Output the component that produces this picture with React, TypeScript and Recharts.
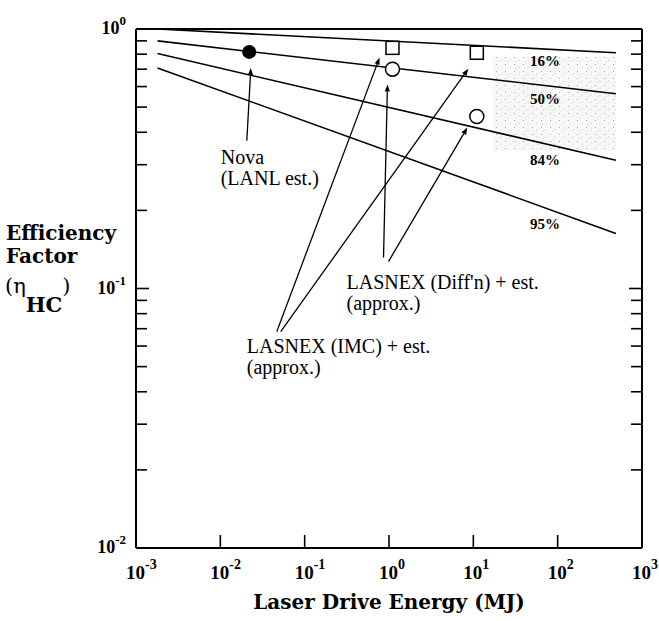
import { ComposedChart, Line, Scatter, XAxis, YAxis, ReferenceLine, ReferenceDot, ReferenceArea } from "recharts"

// laser drive energy (MJ) at the two ends of the efficiency curves
const energyEnds = [0.0018, 490]
const eta16 = [1.0, 0.81]
const eta50 = [0.9, 0.563]
const eta84 = [0.804, 0.312]
const eta95 = [0.708, 0.163]

const curveLabels = ["16%", "50%", "84%", "95%"]
const curveLabelEnergy = 71
const curveLabelEta = [0.756, 0.5375, 0.314, 0.1765]

const novaPoint = [{ energy: 0.022, eta: 0.816 }]
const diffnPoints = [
  { energy: 1.1, eta: 0.7 },
  { energy: 11, eta: 0.46 },
]
const imcPoints = [
  { energy: 1.1, eta: 0.846 },
  { energy: 11, eta: 0.81 },
]

// stippled band on the right
const bandEnergy = [17, 490]
const bandEta = [0.34, 0.78]

// annotation arrows: [from, to] as [energy, eta]
const arrows = [
  [[0.0206, 0.371], [0.023, 0.708]],
  [[0.861, 0.1316], [0.959, 0.611]],
  [[0.986, 0.127], [8.49, 0.417]],
  [[0.0467, 0.0682], [0.773, 0.776]],
  [[0.052, 0.0682], [8.73, 0.703]],
]

const notes = [
  { energy: 0.0101, eta: 0.301, lines: ["Nova", "(LANL est.)"] },
  { energy: 0.314, eta: 0.0997, lines: ["LASNEX (Diff'n) + est.", "(approx.)"] },
  { energy: 0.0206, eta: 0.0565, lines: ["LASNEX (IMC) + est.", "(approx.)"] },
]

const xTicks = [0.001, 0.01, 0.1, 1, 10, 100, 1000]
const yTicks = [
  0.01, 0.02, 0.03, 0.04, 0.05, 0.06, 0.07, 0.08, 0.09, 0.1, 0.2, 0.3, 0.4, 0.5, 0.6, 0.7, 0.8, 0.9, 1,
]
const yMajor = [0.01, 0.1, 1]

const chartData = energyEnds.map((energy, i) => ({
  energy,
  p16: eta16[i],
  p50: eta50[i],
  p84: eta84[i],
  p95: eta95[i],
}))

const serif = "'Liberation Serif', 'Times New Roman', serif"
const wideSerif = "'DejaVu Serif', serif"

const expOf = (v: number) => Math.round(Math.log10(v))
const isMajor = (v: number) => yMajor.some((m) => Math.abs(m - v) < 1e-9)

const BottomTick = ({ x, y, payload }: any) => (
  <g>
    <line x1={x} y1={y} x2={x} y2={y - 13} stroke="#000" strokeWidth={1.6} />
    <text x={x - 10} y={y + 31} fontFamily={serif} fontWeight="bold" fontSize={19} fill="#000">
      10
      <tspan dy={-10} fontSize={14}>
        {expOf(payload.value)}
      </tspan>
    </text>
  </g>
)

const TopTick = ({ x, y }: any) => <line x1={x} y1={y} x2={x} y2={y + 10} stroke="#000" strokeWidth={1.6} />

const LeftTick = ({ x, y, payload }: any) => {
  const major = isMajor(payload.value)
  return (
    <g>
      <line x1={x} y1={y} x2={x + (major ? 13 : 11)} y2={y} stroke="#000" strokeWidth={1.6} />
      {major && (
        <text x={x - 10} y={y + 5} textAnchor="end" fontFamily={serif} fontWeight="bold" fontSize={18} fill="#000">
          10
          <tspan dy={-9} fontSize={13}>
            {expOf(payload.value)}
          </tspan>
        </text>
      )}
    </g>
  )
}

const RightTick = ({ x, y, payload }: any) => (
  <line x1={x} y1={y} x2={x - (isMajor(payload.value) ? 13 : 11)} y2={y} stroke="#000" strokeWidth={1.6} />
)

const Arrow = (p: any) => {
  const { x1, y1, x2, y2 } = p
  const a = Math.atan2(y2 - y1, x2 - x1)
  const c = Math.cos(a)
  const s = Math.sin(a)
  const bx = x2 - 7 * c
  const by = y2 - 7 * s
  return (
    <g>
      <line x1={x1} y1={y1} x2={bx} y2={by} stroke="#000" strokeWidth={1.3} />
      <polygon points={`${x2},${y2} ${bx + 2.6 * s},${by - 2.6 * c} ${bx - 2.6 * s},${by + 2.6 * c}`} fill="#000" />
    </g>
  )
}

const noteShape = (lines: string[]) => (p: any) => (
  <g>
    {lines.map((l, i) => (
      <text key={i} x={p.cx} y={p.cy + i * 21} fontFamily={serif} fontSize={20} fill="#000">
        {l}
      </text>
    ))}
  </g>
)

const pctShape = (label: string) => (p: any) => (
  <text x={p.cx} y={p.cy} textAnchor="middle" dominantBaseline="central" fontFamily={serif} fontWeight="bold" fontSize={15} fill="#000">
    {label}
  </text>
)

const Stipple = (p: any) => (
  <g>
    <defs>
      <pattern id="stipple" width={9} height={7} patternUnits="userSpaceOnUse">
        <circle cx={1.5} cy={1.5} r={0.6} fill="#999" />
        <circle cx={6} cy={4} r={0.5} fill="#aaa" />
        <circle cx={3.5} cy={5.5} r={0.45} fill="#bbb" />
      </pattern>
    </defs>
    <rect x={p.x} y={p.y} width={p.width} height={p.height} fill="#f8f8f8" />
    <rect x={p.x} y={p.y} width={p.width} height={p.height} fill="url(#stipple)" />
  </g>
)

const Square = (p: any) => (
  <rect x={p.cx - 6.5} y={p.cy - 6.5} width={13} height={13} fill="#fff" stroke="#000" strokeWidth={1.5} />
)
const OpenCircle = (p: any) => <circle cx={p.cx} cy={p.cy} r={7} fill="#fff" stroke="#000" strokeWidth={1.5} />
const FilledCircle = (p: any) => <circle cx={p.cx} cy={p.cy} r={7} fill="#000" />

const XTitle = ({ viewBox }: any) => (
  <text
    x={viewBox.x + viewBox.width / 2}
    y={viewBox.y + 61}
    textAnchor="middle"
    fontFamily={wideSerif}
    fontWeight="bold"
    fontSize={20}
    fill="#000"
  >
    Laser Drive Energy (MJ)
  </text>
)

const YTitle = ({ viewBox }: any) => {
  const x = viewBox.x + viewBox.width - 130
  const top = viewBox.y
  return (
    <g fill="#000">
      <text x={x} y={top + 211} fontFamily={wideSerif} fontWeight="bold" fontSize={20}>
        Efficiency
      </text>
      <text x={x} y={top + 234} fontFamily={wideSerif} fontWeight="bold" fontSize={20}>
        Factor
      </text>
      <text x={x - 1} y={top + 264} fontFamily={wideSerif} fontSize={21}>
        (η
        <tspan dy={19} fontWeight="bold" fontSize={21}>
          HC
        </tspan>
        <tspan dy={-19}>)</tspan>
      </text>
    </g>
  )
}

export default function App() {
  const axisLine = { stroke: "#000", strokeWidth: 2 }
  return (
    <div style={{ position: "absolute", left: 0, top: 0, background: "#fff" }}>
      <ComposedChart width={659} height={621} data={chartData} margin={{ top: 28, right: 16, bottom: 72, left: 135 }}>
        <XAxis
          dataKey="energy"
          type="number"
          scale="log"
          domain={[0.001, 1000]}
          allowDataOverflow
          ticks={xTicks}
          interval={0}
          height={1}
          tickSize={0}
          tickMargin={0}
          tickLine={false}
          axisLine={axisLine}
          tick={<BottomTick />}
          label={{ content: <XTitle /> }}
        />
        <XAxis
          xAxisId="top"
          orientation="top"
          type="number"
          scale="log"
          domain={[0.001, 1000]}
          allowDataOverflow
          ticks={xTicks}
          interval={0}
          height={1}
          tickSize={0}
          tickMargin={0}
          tickLine={false}
          axisLine={axisLine}
          tick={<TopTick />}
        />
        <YAxis
          type="number"
          scale="log"
          domain={[0.01, 1]}
          allowDataOverflow
          ticks={yTicks}
          interval={0}
          width={1}
          tickSize={0}
          tickMargin={0}
          tickLine={false}
          axisLine={axisLine}
          tick={<LeftTick />}
          label={{ content: <YTitle /> }}
        />
        <YAxis
          yAxisId="right"
          orientation="right"
          type="number"
          scale="log"
          domain={[0.01, 1]}
          allowDataOverflow
          ticks={yTicks}
          interval={0}
          width={1}
          tickSize={0}
          tickMargin={0}
          tickLine={false}
          axisLine={axisLine}
          tick={<RightTick />}
        />

        <ReferenceArea
          x1={bandEnergy[0]}
          x2={bandEnergy[1]}
          y1={bandEta[0]}
          y2={bandEta[1]}
          shape={<Stipple />}
          ifOverflow="visible"
        />

        <Line dataKey="p16" type="linear" stroke="#000" strokeWidth={1.6} dot={false} isAnimationActive={false} />
        <Line dataKey="p50" type="linear" stroke="#000" strokeWidth={1.6} dot={false} isAnimationActive={false} />
        <Line dataKey="p84" type="linear" stroke="#000" strokeWidth={1.6} dot={false} isAnimationActive={false} />
        <Line dataKey="p95" type="linear" stroke="#000" strokeWidth={1.6} dot={false} isAnimationActive={false} />

        {arrows.map((a, i) => (
          <ReferenceLine
            key={`arrow-${i}`}
            segment={[
              { x: a[0][0], y: a[0][1] },
              { x: a[1][0], y: a[1][1] },
            ]}
            ifOverflow="visible"
            shape={<Arrow />}
          />
        ))}

        <Scatter data={novaPoint} dataKey="eta" shape={<FilledCircle />} isAnimationActive={false} />
        <Scatter data={diffnPoints} dataKey="eta" shape={<OpenCircle />} isAnimationActive={false} />
        <Scatter data={imcPoints} dataKey="eta" shape={<Square />} isAnimationActive={false} />

        {curveLabels.map((label, i) => (
          <ReferenceDot
            key={label}
            x={curveLabelEnergy}
            y={curveLabelEta[i]}
            ifOverflow="visible"
            shape={pctShape(label)}
          />
        ))}

        {notes.map((n, i) => (
          <ReferenceDot key={`note-${i}`} x={n.energy} y={n.eta} ifOverflow="visible" shape={noteShape(n.lines)} />
        ))}
      </ComposedChart>
    </div>
  )
}
